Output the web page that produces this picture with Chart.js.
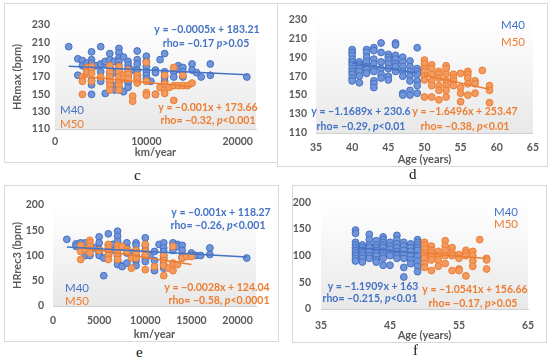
<!DOCTYPE html>
<html>
<head>
<meta charset="utf-8">
<script src="https://cdn.jsdelivr.net/npm/chart.js@4.4.0/dist/chart.umd.min.js"></script>
<style>
body { margin: 0; background: #fff; width: 550px; height: 364px; position: relative; overflow: hidden; }
.panel { position: absolute; border: 1px solid #d9d9d9; box-sizing: border-box; background: #fff; }
.panel canvas { display: block; }
.tag { position: absolute; font-family: 'Liberation Serif', serif; font-size: 15px; color: #111; line-height: 15px; }
</style>
</head>
<body>
<div class="panel" id="boxC"><canvas id="chartC"></canvas></div>
<div class="panel" id="boxD"><canvas id="chartD"></canvas></div>
<div class="panel" id="boxE"><canvas id="chartE"></canvas></div>
<div class="panel" id="boxF"><canvas id="chartF"></canvas></div>
<div class="tag" style="left:134px;top:168px">c</div>
<div class="tag" style="left:409px;top:167px">d</div>
<div class="tag" style="left:136px;top:345px">e</div>
<div class="tag" style="left:413px;top:343px">f</div>
<script>
// 数据：c 图  km/year - HRmax
const kmHrmaxM40 = [
    [1500,205],[2500,191],[2500,172],[3000,189],[3000,183],[3500,186],[3500,176],[3500,180],
    [4000,199],[4000,190],[4000,186],[4000,182],[4000,166],[4000,161],[4000,150],[4500,183],
    [5000,205],[5000,185],[5000,176],[5000,165],[5500,151],[5500,185],[5500,188],
    [6000,197],[6000,190],[6000,182],[6000,175],[6000,170],[6000,165],
    [6500,188],[6500,175],[6500,160],[6500,155],
    [7000,203],[7000,198],[7000,192],[7000,188],[7000,183],[7000,178],[7000,172],[7000,165],[7000,158],[7000,155],
    [7500,193],[7500,153],
    [8000,188],[8000,184],[8000,180],[8000,176],[8000,170],[8000,163],[8000,158],[8500,178],
    [9000,200],[9000,190],[9000,185],[9000,178],[9000,172],[9000,168],
    [10000,194],[10000,188],[10000,182],[10000,176],[10000,172],[10000,168],[10500,165],
    [11000,178],[11000,175],[11000,150],[11500,190],
    [12000,197],[12000,176],[12000,170],[12000,165],[12000,160],
    [13000,176],[13000,170],[13500,183],[13500,179],[14000,181],[14000,176],[14000,170],
    [15000,185],[15000,178],[15500,175],[16000,170],[17000,185],[17000,172],[21000,170]
];
const kmHrmaxM50 = [
    [3000,170],[3000,165],[3000,150],[3500,181],[3500,176],
    [4000,182],[4000,178],[4000,174],[4000,165],[5000,170],
    [6000,183],[6000,176],[6000,170],[6000,165],[6000,160],[6000,155],
    [7000,182],[7000,176],[7000,170],[7000,164],[7000,160],[7000,155],[7500,172],[7500,168],
    [8000,178],[8000,173],[8000,168],[8500,148],[8500,142],[9000,172],[9000,168],[9000,163],
    [10000,187],[10000,165],[10000,152],[10000,149],[11000,150],[11500,158],
    [12000,172],[12000,162],[12000,155],[12000,151],[12500,158],
    [13000,181],[13000,160],[13000,143],[13500,160],[14000,172],[14000,160],[14500,160],[15000,163]
];

// 数据：d 图  age - HRmax
const ageHrmaxM40 = [
    [40,198],[40,195],[40,192],[40,188],[40,185],[40,182],[40,178],[40,175],[40,172],[40,168],[40,165],
    [41,185],[41,182],[41,178],[41,175],[41,170],[41,163],
    [42,198],[42,195],[42,190],[42,185],[42,180],[42,177],[42,173],
    [43,200],[43,197],[43,188],[43,183],[43,178],[43,175],[43,165],[43,162],[43,158],
    [44,205],[44,195],[44,185],[44,178],[44,172],[44,168],
    [45,193],[45,190],[45,187],[45,183],[45,178],[45,170],[45,166],
    [46,205],[46,203],[46,192],[46,188],[46,183],[46,180],[46,175],
    [47,190],[47,185],[47,180],[47,175],[47,170],[47,152],[47,150],
    [48,186],[48,180],[48,175],[48,170],[48,165],[48,155],[48,150],
    [49,200],[49,178],[49,175],[49,172],[49,165],[49,160],[49,152]
];
const ageHrmaxM50 = [
    [50,187],[50,183],[50,178],[50,175],[50,170],[50,166],[50,148],
    [51,182],[51,178],[51,172],[51,165],[51,160],[51,148],
    [52,175],[52,172],[52,168],[52,160],[52,155],[52,145],
    [53,181],[53,178],[53,172],[53,165],[53,160],[53,155],[53,148],
    [54,172],[54,168],[54,165],[54,160],
    [55,173],[55,158],[55,152],[55,143],
    [56,175],[56,172],[56,168],[56,162],[56,150],
    [57,165],[57,162],[57,152],[58,176],[59,160],[59,155],[59,142]
];

// 数据：e 图  km/year - HRrec3
const kmHrrecM40 = [
    [1500,132],[2500,123],[2500,118],[3000,125],[3000,120],[3500,125],[3500,110],[3500,100],
    [4000,120],[4000,110],[4000,100],[4500,115],
    [5000,137],[5000,125],[5000,112],[5000,105],[5000,100],[5500,95],[5500,60],
    [6000,143],[6000,120],[6000,110],[6000,100],[6500,122],[6500,110],
    [7000,148],[7000,138],[7000,128],[7000,118],[7000,110],[7000,100],[7000,90],[7000,82],
    [7500,80],[7500,78],[8000,125],[8000,115],[8000,105],[8000,85],[8500,105],
    [9000,125],[9000,120],[9000,110],[9000,100],[9000,90],[9000,80],
    [10000,135],[10000,120],[10000,110],[10000,100],[10000,95],[10000,88],[10500,100],
    [11000,108],[11000,90],[11000,70],[11500,122],
    [12000,125],[12000,115],[12000,108],[12000,100],[12000,95],[12000,90],[12000,82],[12000,75],
    [13000,125],[13000,110],[13500,122],[13500,118],[14000,120],[14000,110],[14000,98],[14000,95],
    [15000,105],[15000,100],[15500,100],[16000,100],[17000,115],[17000,102],[21000,95]
];
const kmHrrecM50 = [
    [3000,120],[3000,108],[3000,92],[3500,112],[4000,130],[4000,125],[4000,118],[4000,110],[4000,105],
    [5000,110],[6000,122],[6000,115],[6000,108],[6000,100],[6000,92],
    [7000,120],[7000,112],[7000,105],[7000,98],[7000,92],[7500,118],[8000,112],[8000,108],
    [8500,95],[8500,75],[9000,110],[9000,105],[9000,95],
    [10000,122],[10000,108],[10000,100],[10000,72],[11000,78],
    [12000,100],[12000,90],[12000,80],[12000,60],[12500,75],
    [13000,118],[13000,85],[13000,70],[13500,82],[14000,95],[14500,98],[15000,98]
];

// 数据：f 图  age - HRrec3
const ageHrrecM40 = [
    [40,148],[40,142],[40,125],[40,120],[40,115],[40,110],[40,105],[40,100],[40,95],[40,90],
    [41,120],[41,115],[41,110],[41,105],[41,100],[41,95],[41,88],
    [42,140],[42,130],[42,120],[42,115],[42,108],[42,100],[42,95],
    [43,128],[43,120],[43,115],[43,110],[43,105],[43,100],[43,92],[43,88],
    [44,135],[44,130],[44,125],[44,120],[44,115],[44,108],[44,100],[44,95],[44,82],
    [45,125],[45,118],[45,112],[45,105],[45,100],[45,82],
    [46,138],[46,130],[46,122],[46,115],[46,108],[46,100],[46,95],
    [47,125],[47,118],[47,110],[47,102],[47,95],[47,78],[47,60],
    [48,122],[48,115],[48,108],[48,100],[48,92],[48,85],
    [49,130],[49,125],[49,120],[49,115],[49,110],[49,100],[49,90],[49,80],[49,70]
];
const ageHrrecM50 = [
    [50,125],[50,120],[50,112],[50,105],[50,100],[50,95],[50,85],[50,78],
    [51,118],[51,110],[51,105],[51,100],[51,92],[51,72],
    [52,108],[52,100],[52,92],[52,80],
    [53,128],[53,118],[53,110],[53,100],[53,85],
    [54,115],[54,105],[54,100],[54,72],
    [55,102],[55,95],[55,75],[55,72],
    [56,110],[56,105],[56,100],[56,62],
    [57,108],[57,100],[57,90],[57,80],[58,130],[59,95],[59,92],[59,75]
];

// 趋势线 [斜率, 截距]
const trendC = { m40: [-0.0005, 183.21], m50: [-0.001, 173.66] };
const trendD = { m40: [-1.1689, 230.6], m50: [-1.6496, 253.47] };
const trendE = { m40: [-0.001, 118.27], m50: [-0.0028, 124.04] };
const trendF = { m40: [-1.1909, 163], m50: [-1.0541, 156.66] };

// 刻度
const kmTicksC = [0, 10000, 20000];
const kmTicksE = [0, 5000, 10000, 15000, 20000];
const ageTicksD = [35, 40, 45, 50, 55, 60, 65];
const ageTicksF = [35, 45, 55, 65];
const hrmaxTicks = [110, 130, 150, 170, 190, 210, 230];
const hrrecTicks = [0, 50, 100, 150, 200];

const BLUE = '#4472C4';
const ORANGE = '#ED7D31';
const FONT = 'Lato, "Open Sans", sans-serif';

// 背景渐变 + 文字标注
const notesPlugin = {
    id: 'notes',
    beforeDatasetsDraw(chart) {
        const { ctx, chartArea: a } = chart;
        const g = ctx.createLinearGradient(0, a.top, 0, a.bottom);
        g.addColorStop(0, '#ffffff');
        g.addColorStop(1, '#e8e8e8');
        ctx.save();
        ctx.fillStyle = g;
        ctx.fillRect(a.left, a.top, a.right - a.left, a.bottom - a.top);
        ctx.restore();
    },
    afterDraw(chart, args, opts) {
        const ctx = chart.ctx;
        (opts.items || []).forEach(n => {
            const parts = n.text.split('*');
            const font = i => (i % 2 ? 'italic ' : '') + (n.weight || 'bold') + ' ' + (n.size || 10.5) + 'px ' + FONT;
            ctx.save();
            ctx.fillStyle = n.color;
            ctx.textBaseline = 'middle';
            const widths = parts.map((p, i) => { ctx.font = font(i); return ctx.measureText(p).width; });
            const total = widths.reduce((s, w) => s + w, 0);
            let x = (n.align === 'left' ? n.x : n.x - total / 2) - opts.dx;
            parts.forEach((p, i) => {
                ctx.font = font(i);
                ctx.fillText(p, x, n.y - opts.dy);
                x += widths[i];
            });
            ctx.restore();
        });
    }
};

function trendPoints(pts, t) {
    const xs = pts.map(p => p[0]);
    const lo = Math.min(...xs), hi = Math.max(...xs);
    return [{ x: lo, y: t[0] * lo + t[1] }, { x: hi, y: t[0] * hi + t[1] }];
}

function makePanel(p) {
    const boxEl = document.getElementById(p.boxId);
    boxEl.style.left = p.box.l + 'px';
    boxEl.style.top = p.box.t + 'px';
    boxEl.style.width = (p.box.r - p.box.l) + 'px';
    boxEl.style.height = (p.box.b - p.box.t) + 'px';
    const inner = { l: p.box.l + 1, t: p.box.t + 1, r: p.box.r - 1, b: p.box.b - 1 };
    const canvas = document.getElementById(p.canvasId);
    canvas.width = inner.r - inner.l;
    canvas.height = inner.b - inner.t;

    const tickFont = { family: FONT, size: 10.5, weight: 'bold' };
    const titleFont = { family: FONT, size: 11, weight: 'bold', lineHeight: 1.2 };

    new Chart(canvas, {
        type: 'scatter',
        data: {
            datasets: [
                { type: 'line', data: trendPoints(p.m40, p.trend.m40), borderColor: BLUE, borderWidth: 1.5, pointRadius: 0 },
                { type: 'line', data: trendPoints(p.m50, p.trend.m50), borderColor: ORANGE, borderWidth: 1.5, pointRadius: 0 },
                { data: p.m50.map(v => ({ x: v[0], y: v[1] })), backgroundColor: '#F29A60', borderColor: ORANGE, borderWidth: 1, pointRadius: 3.4 },
                { data: p.m40.map(v => ({ x: v[0], y: v[1] })), backgroundColor: '#7294D8', borderColor: BLUE, borderWidth: 1, pointRadius: 3.4 }
            ]
        },
        options: {
            responsive: false,
            animation: false,
            devicePixelRatio: 1,
            layout: { padding: { left: 0, bottom: 0, top: p.area.t - inner.t, right: inner.r - p.area.r } },
            plugins: {
                legend: { display: false },
                tooltip: { enabled: false },
                notes: { items: p.notes, dx: inner.l, dy: inner.t }
            },
            scales: {
                x: {
                    type: 'linear',
                    min: p.xTicks[0],
                    max: p.xMax,
                    afterBuildTicks: s => { s.ticks = p.xTicks.map(v => ({ value: v })); },
                    afterFit: s => { s.height = inner.b - p.area.b; },
                    grid: { display: false, drawTicks: false },
                    border: { color: '#d0d0d0', width: 1 },
                    ticks: { padding: p.xPad, color: '#595959', font: tickFont, maxRotation: 0,
                             callback: v => String(v) },
                    title: { display: true, text: p.xTitle, color: '#595959', font: titleFont,
                             padding: { top: 0, bottom: Math.max(0, inner.b - p.xTitleY - 6.6) } }
                },
                y: {
                    type: 'linear',
                    min: p.yTicks[0],
                    max: p.yTicks[p.yTicks.length - 1],
                    afterBuildTicks: s => { s.ticks = p.yTicks.map(v => ({ value: v })); },
                    afterFit: s => { s.width = p.area.l - inner.l; },
                    grid: { display: false, drawTicks: false },
                    border: { color: '#d0d0d0', width: 1 },
                    ticks: { padding: p.yPad, color: '#595959', font: tickFont, callback: v => String(v) },
                    title: { display: !!p.yTitle, text: p.yTitle || '', color: '#595959', font: titleFont,
                             padding: { top: Math.max(0, (p.yTitleX || 0) - inner.l - 6.6), bottom: 0 } }
                }
            }
        },
        plugins: [notesPlugin]
    });
}

makePanel({
    boxId: 'boxC', canvasId: 'chartC',
    box: { l: 4, t: 3, r: 279, b: 163 }, area: { l: 55, t: 25, r: 256, b: 129 },
    m40: kmHrmaxM40, m50: kmHrmaxM50, trend: trendC,
    xTicks: kmTicksC, xMax: 22000, yTicks: hrmaxTicks,
    xTitle: 'km/year', xTitleY: 152, xPad: 6, yTitle: 'HRmax (bpm)', yTitleX: 17, yPad: 5,
    notes: [
        { text: 'y = −0.0005x + 183.21', x: 207, y: 30, color: BLUE },
        { text: 'rho= −0.17 *p*>0.05', x: 206, y: 44, color: BLUE },
        { text: 'y = −0.001x + 173.66', x: 208, y: 108, color: ORANGE },
        { text: 'rho= −0.32, *p*<0.001', x: 208, y: 121, color: ORANGE },
        { text: 'M40', x: 60, y: 110, color: BLUE, align: 'left', weight: 'normal', size: 11.5 },
        { text: 'M50', x: 60, y: 124, color: ORANGE, align: 'left', weight: 'normal', size: 11.5 }
    ]
});

makePanel({
    boxId: 'boxD', canvasId: 'chartD',
    box: { l: 277, t: 3, r: 548, b: 167 }, area: { l: 316, t: 19, r: 533, b: 133 },
    m40: ageHrmaxM40, m50: ageHrmaxM50, trend: trendD,
    xTicks: ageTicksD, xMax: 65, yTicks: hrmaxTicks,
    xTitle: 'Age (years)', xTitleY: 159, xPad: 8, yTitle: null, yPad: 9,
    notes: [
        { text: 'M40', x: 513, y: 25, color: BLUE, weight: 'normal', size: 11.5 },
        { text: 'M50', x: 513, y: 42, color: ORANGE, weight: 'normal', size: 11.5 },
        { text: 'y = −1.1689x + 230.6', x: 361, y: 112, color: BLUE },
        { text: 'rho= −0.29, *p*<0.01', x: 361, y: 127, color: BLUE },
        { text: 'y = −1.6496x + 253.47', x: 465, y: 112, color: ORANGE },
        { text: 'rho= −0.38, *p*<0.01', x: 465, y: 127, color: ORANGE }
    ]
});

makePanel({
    boxId: 'boxE', canvasId: 'chartE',
    box: { l: 4, t: 185, r: 279, b: 342 }, area: { l: 53, t: 205, r: 256, b: 306 },
    m40: kmHrrecM40, m50: kmHrrecM50, trend: trendE,
    xTicks: kmTicksE, xMax: 22000, yTicks: hrrecTicks,
    xTitle: 'km/year', xTitleY: 334, xPad: 8, yTitle: 'HRrec3 (bpm)', yTitleX: 17, yPad: 9,
    notes: [
        { text: 'y = −0.001x + 118.27', x: 221, y: 213, color: BLUE },
        { text: 'rho= −0.26, *p*<0.001', x: 218, y: 226, color: BLUE },
        { text: 'y = −0.0028x + 124.04', x: 217, y: 288, color: ORANGE },
        { text: 'rho= −0.58, *p*<0.0001', x: 219, y: 301, color: ORANGE },
        { text: 'M40', x: 65, y: 288, color: BLUE, align: 'left', weight: 'normal', size: 11.5 },
        { text: 'M50', x: 65, y: 301, color: ORANGE, align: 'left', weight: 'normal', size: 11.5 }
    ]
});

makePanel({
    boxId: 'boxF', canvasId: 'chartF',
    box: { l: 292, t: 185, r: 547, b: 343 }, area: { l: 321, t: 202, r: 528, b: 309 },
    m40: ageHrrecM40, m50: ageHrrecM50, trend: trendF,
    xTicks: ageTicksF, xMax: 65, yTicks: hrrecTicks,
    xTitle: 'Age (years)', xTitleY: 335, xPad: 10, yTitle: null, yPad: 10,
    notes: [
        { text: 'M40', x: 506, y: 212, color: BLUE, weight: 'normal', size: 11.5 },
        { text: 'M50', x: 506, y: 224, color: ORANGE, weight: 'normal', size: 11.5 },
        { text: 'y = −1.1909x + 163', x: 373, y: 287, color: BLUE },
        { text: 'rho= −0.215, *p*<0.01', x: 370, y: 299, color: BLUE },
        { text: 'y = −1.0541x + 156.66', x: 475, y: 290, color: ORANGE },
        { text: 'rho= −0.17, *p*>0.05', x: 473, y: 304, color: ORANGE }
    ]
});
</script>
</body>
</html>
